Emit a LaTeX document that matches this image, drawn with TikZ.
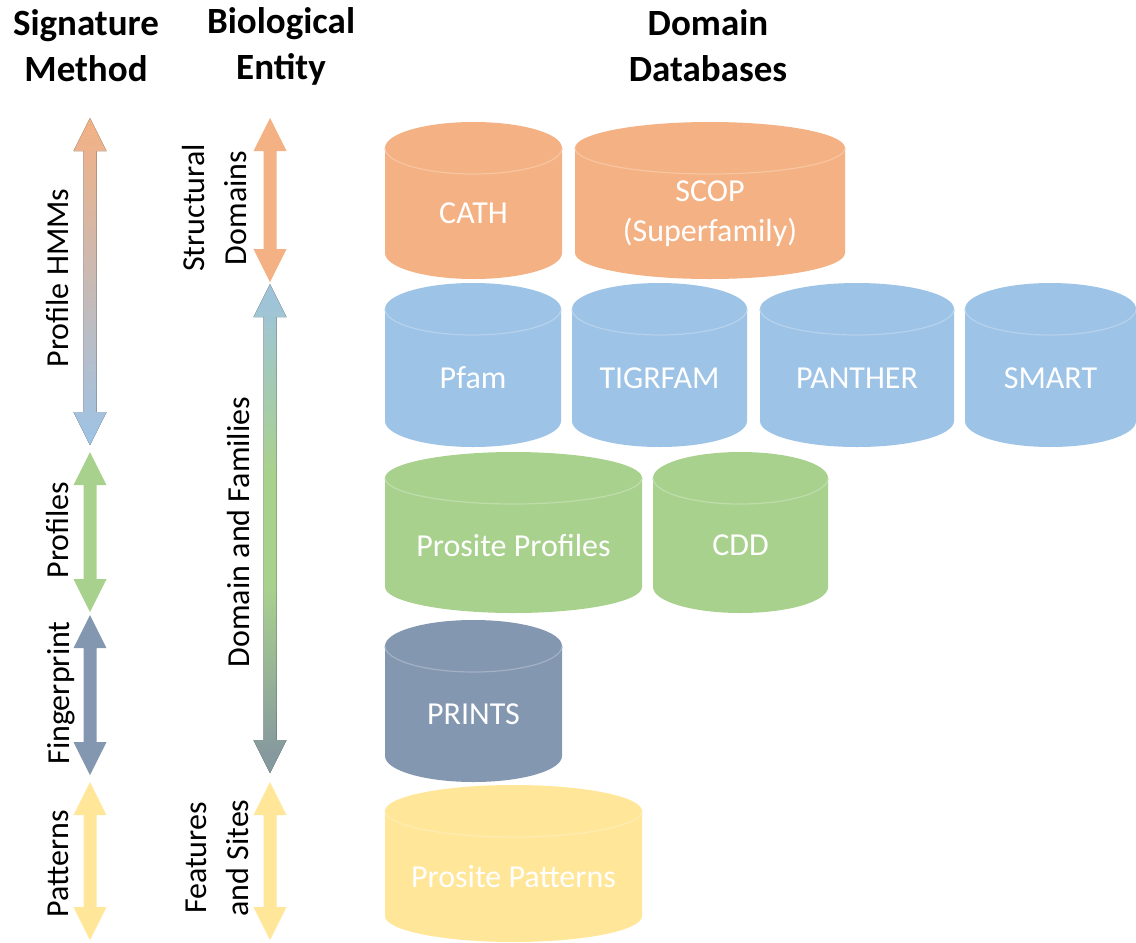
\documentclass[tikz,border=0pt]{standalone}
\usepackage{fontspec}
\setmainfont{Carlito}
\usepackage{tikz}

\definecolor{dbOrange}{HTML}{F4B183}
\definecolor{dbBlue}{HTML}{9DC3E6}
\definecolor{dbGreen}{HTML}{A9D18E}
\definecolor{dbSlate}{HTML}{8497B0}
\definecolor{dbYellow}{HTML}{FFE699}
\definecolor{famTop}{HTML}{9FC4D8}
\definecolor{famBot}{HTML}{86999E}

\pgfdeclareverticalshading{famshade}{100bp}{color(0bp)=(famBot); color(27bp)=(famBot);
  color(44bp)=(dbGreen); color(56bp)=(dbGreen); color(73bp)=(famTop); color(100bp)=(famTop)}

% database drum: name, left, right, top, bottom, colour, label
\newcommand{\dbcyl}[7]{%
  \pgfmathsetmacro\dbX{(#2+#3)/2}
  \pgfmathsetmacro\dbR{(#3-#2)/2}
  \pgfmathsetmacro\dbA{-(#4)-26}
  \pgfmathsetmacro\dbB{-(#5)+26}
  \pgfmathsetmacro\dbT{(\dbA-(#5))/2}
  \fill[#6] (#2,\dbA) arc[start angle=180,end angle=0,x radius=\dbR,y radius=26]
    -- (#3,\dbB) arc[start angle=0,end angle=-180,x radius=\dbR,y radius=26] -- cycle;
  \draw[#6!75!white, line width=1.2pt] (#2,\dbA) arc[start angle=180,end angle=360,x radius=\dbR,y radius=26];
  \node[dbtext] (#1) at (\dbX,\dbT) {#7};
}
% block arrow with two heads: x, top, bottom, fill
\newcommand{\twoway}[4]{%
  \pgfmathsetmacro\twA{-(#2)}
  \pgfmathsetmacro\twB{-(#2)-33}
  \pgfmathsetmacro\twC{-(#3)+33}
  \pgfmathsetmacro\twD{-(#3)}
  \fill[#4] (#1,\twA) -- (#1+16.5,\twB) -- (#1+6.5,\twB) -- (#1+6.5,\twC) -- (#1+16.5,\twC)
    -- (#1,\twD) -- (#1-16.5,\twC) -- (#1-6.5,\twC) -- (#1-6.5,\twB) -- (#1-16.5,\twB) -- cycle;
}

\begin{document}
\begin{tikzpicture}
[
x=1pt, y=1pt,
every node/.style={inner sep=0pt},
title/.style={font=\fontsize{37}{46}\selectfont\bfseries, align=center},
side/.style={font=\fontsize{32}{42}\selectfont, align=center, rotate=90},
dbtext/.style={font=\fontsize{32}{40}\selectfont, text=white, align=center}
]
\useasboundingbox (0,0) rectangle (1136,-943);

% headings
\node[title] (sigHead) at (86,-46) {Signature\\Method};
\node[title] (bioHead) at (281,-46) {Biological\\Entity};
\node[title] (dbHead) at (708,-46) {Domain\\Databases};

% signature methods
\twoway{90}{118}{445}{top color=dbOrange, bottom color=dbBlue}
\twoway{90}{452}{612}{dbGreen}
\twoway{90}{615}{775}{dbSlate}
\twoway{90}{782}{940}{dbYellow}
\node[side] (hmmLabel) at (58,-278) {Profile HMMs};
\node[side] (profLabel) at (58,-530) {Profiles};
\node[side] (fingLabel) at (61,-693) {Fingerprint};
\node[side] (patLabel) at (58,-864) {Patterns};

% biological entities
\twoway{270}{118}{282}{dbOrange}
\twoway{270}{284}{773}{shading=famshade}
\twoway{270}{782}{940}{dbYellow}
\node[side] (strucLabel) at (215,-208) {Structural\\Domains};
\node[side] (famLabel) at (239,-532) {Domain and Families};
\node[side] (featLabel) at (217,-858) {Features\\and Sites};

% databases
\dbcyl{cath}{385}{562}{122}{279}{dbOrange}{CATH}
\dbcyl{scop}{575}{845}{122}{279}{dbOrange}{SCOP\\(Superfamily)}
\dbcyl{pfam}{385}{561}{283}{447}{dbBlue}{Pfam}
\dbcyl{tigrfam}{572}{747}{283}{447}{dbBlue}{TIGRFAM}
\dbcyl{panther}{760}{954}{283}{447}{dbBlue}{PANTHER}
\dbcyl{smart}{965}{1136}{283}{447}{dbBlue}{SMART}
\dbcyl{prositeprof}{385}{642}{452}{613}{dbGreen}{Prosite Profiles}
\dbcyl{cdd}{653}{828}{452}{613}{dbGreen}{CDD}
\dbcyl{prints}{385}{562}{620}{782}{dbSlate}{PRINTS}
\dbcyl{prositepat}{385}{642}{785}{942}{dbYellow}{Prosite Patterns}
\end{tikzpicture}
\end{document}
